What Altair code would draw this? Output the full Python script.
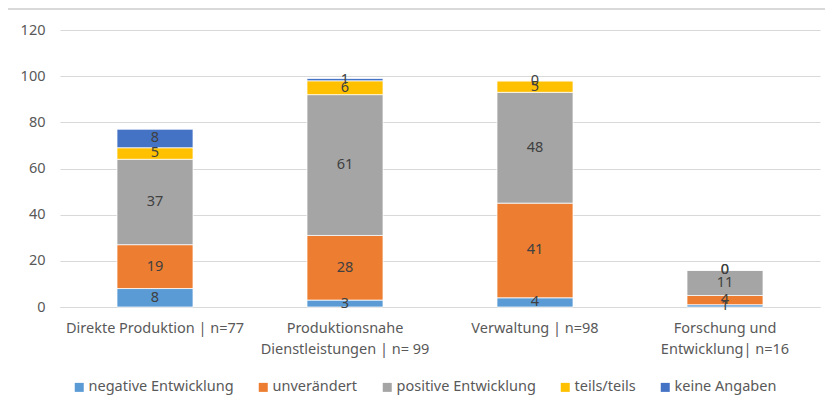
import altair as alt
import pandas as pd

categories = [
    "Direkte Produktion | n=77",
    "Produktionsnahe\nDienstleistungen | n= 99",
    "Verwaltung | n=98",
    "Forschung und\nEntwicklung| n=16",
]
series = ["negative Entwicklung", "unverändert", "positive Entwicklung", "teils/teils", "keine Angaben"]
colors = ["#5B9BD5", "#ED7D31", "#A5A5A5", "#FFC000", "#4472C4"]

negative = [8, 3, 4, 1]
unveraendert = [19, 28, 41, 4]
positive = [37, 61, 48, 11]
teils = [5, 6, 5, 0]
keine = [8, 1, 0, 0]

values = [negative, unveraendert, positive, teils, keine]
rows = []
for si, s in enumerate(series):
    for ci, c in enumerate(categories):
        rows.append({"cat": c, "series": s, "order": si, "value": values[si][ci]})
df = pd.DataFrame(rows)

FONT = "Noto Sans"
FS = 14.5
W, H = 760, 277

base = alt.Chart(df).transform_stack(
    stack="value", as_=["y0", "y1"], groupby=["cat"], sort=[{"field": "order", "order": "ascending"}]
).transform_calculate(mid="(datum.y0 + datum.y1) / 2")

xenc = alt.X(
    "cat:N",
    sort=categories,
    title=None,
    scale=alt.Scale(paddingInner=0.6, paddingOuter=0.3),
    axis=alt.Axis(
        labelAngle=0,
        labelExpr="split(datum.label, '\\n')",
        labelLineHeight=21,
        labelPadding=14,
        labelFontSize=FS,
        labelColor="#595959",
        labelFont=FONT,
        ticks=False,
        domainColor="#d9d9d9",
        domainWidth=1,
        grid=False,
    ),
)

bars = base.mark_bar(stroke="white", strokeWidth=0.75).encode(
    x=xenc,
    y=alt.Y(
        "y0:Q",
        title=None,
        scale=alt.Scale(domain=[0, 120], nice=False),
        axis=alt.Axis(
            values=[0, 20, 40, 60, 80, 100, 120],
            labelFontSize=FS,
            labelColor="#595959",
            labelFont=FONT,
            labelPadding=15,
            ticks=False,
            domain=False,
            gridColor="#d9d9d9",
            gridWidth=1,
        ),
    ),
    y2="y1:Q",
    color=alt.Color(
        "series:N",
        scale=alt.Scale(domain=series, range=colors),
        sort=series,
        legend=alt.Legend(
            title=None,
            orient="none",
            legendX=12,
            legendY=350,
            direction="horizontal",
            columns=5,
            symbolType="square",
            symbolSize=81,
            symbolStrokeWidth=0,
            labelFontSize=FS,
            labelColor="#595959",
            labelFont=FONT,
            labelOffset=2,
            columnPadding=22,
        ),
    ),
)

texts = base.mark_text(fontSize=FS, color="#404040", font=FONT, baseline="middle").encode(
    x=alt.X("cat:N", sort=categories),
    y=alt.Y("mid:Q"),
    text=alt.Text("value:Q"),
)

border_top = alt.Chart(df).mark_rule(color="#d9d9d9", strokeWidth=1.5, clip=False).encode(
    x=alt.value(-54), x2=alt.value(W + 20), y=alt.value(-21)
)
border_left = alt.Chart(df).mark_rule(color="#d9d9d9", strokeWidth=1.5, clip=False).encode(
    x=alt.value(-53.5), y=alt.value(-21), y2=alt.value(H + 90)
)

chart = alt.layer(bars, texts, border_top, border_left).properties(
    width=W,
    height=H,
    padding={"left": 52, "top": 22, "right": 5, "bottom": 88},
    autosize=alt.AutoSizeParams(type="none"),
).configure_view(stroke=None)

chart.save("out.html", embed_options={"renderer": "svg", "actions": False})
